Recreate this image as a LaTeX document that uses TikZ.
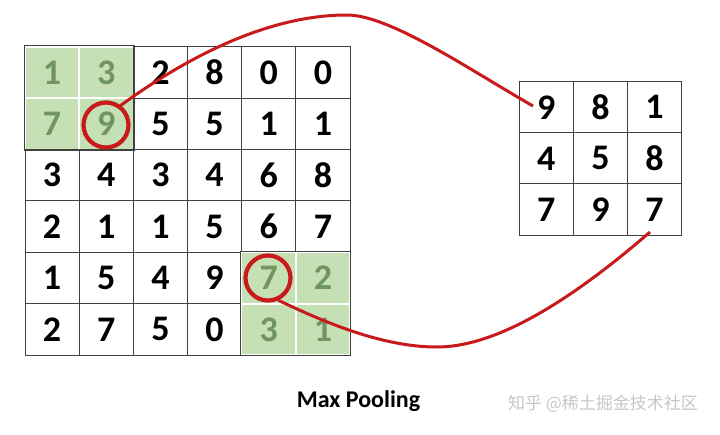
\documentclass[tikz,border=0pt]{standalone}
\usepackage{fontspec}
\setmainfont{Carlito}
\newfontfamily\cjkfont{Noto Sans CJK SC}
\definecolor{gridgray}{HTML}{404040}
\definecolor{cellgreen}{HTML}{C5E0B4}
\definecolor{greentext}{HTML}{6F965F}
\definecolor{ringred}{HTML}{C8191B}
\begin{document}
\begin{tikzpicture}[x=1pt,y=-1pt,
  cellbox/.style={draw=gridgray, line width=1pt, minimum width=54.17pt, minimum height=51.4pt, inner sep=0pt, font=\bfseries\fontsize{36}{36}\selectfont},
  greencell/.style={cellbox, fill=cellgreen, draw=white, line width=1.6pt, text=greentext},
  outcell/.style={cellbox, minimum width=54.1pt, minimum height=51.1pt},
  ring/.style={circle, draw=ringred, line width=4.2pt, minimum size=45pt, inner sep=0pt},
  link/.style={draw=ringred, line width=3pt}]
\useasboundingbox (0,0) rectangle (720,434);
% input 6x6 grid
\foreach \rowvals [count=\r] in {{1,3,2,8,0,0},{7,9,5,5,1,1},{3,4,3,4,6,8},{2,1,1,5,6,7},{1,5,4,9,7,2},{2,7,5,0,3,1}}{
  \foreach \v [count=\c] in \rowvals {
    \pgfmathtruncatemacro\isg{((\r<3)&&(\c<3))||((\r>4)&&(\c>4))}
    \ifnum\isg=1
      \node[greencell] (c-\r-\c) at ({25+54.17*(\c-0.5)},{46.7+51.4*(\r-0.5)}) {\v};
    \else
      \node[cellbox] (c-\r-\c) at ({25+54.17*(\c-0.5)},{46.7+51.4*(\r-0.5)}) {\v};
    \fi
  }
}
\draw[gridgray, line width=1pt] (c-1-1.north west) rectangle (c-2-2.south east);
\draw[gridgray, line width=1pt] (c-5-5.north west) rectangle (c-6-6.south east);
% output 3x3 grid
\foreach \rowvals [count=\r] in {{9,8,1},{4,5,8},{7,9,7}}{
  \foreach \v [count=\c] in \rowvals {
    \node[outcell] (r-\r-\c) at ({519.3+54.1*(\c-0.5)},{81.7+51.1*(\r-0.5)}) {\v};
  }
}
% rings
\node[ring] (k1) at (106,125) {};
\node[ring] (k2) at (268,278) {};
% connectors
\coordinate (p1) at (347,15);
\coordinate (e1) at (533,106);
\coordinate (p2) at (437,347);
\coordinate (e2) at (650,232);
\draw[link] (k1.53) .. controls (190,55) and (270,15) .. (p1) .. controls (390,15) and (470,70) .. (e1);
\draw[link] (k2.-65) .. controls (330,325) and (385,347) .. (p2) .. controls (490,347) and (560,310) .. (e2);
% labels
\node[font=\bfseries\fontsize{24}{24}\selectfont, anchor=base] (title) at (358.5,407.3) {Max Pooling};
\node[font=\cjkfont\fontsize{17}{17}\selectfont, text=gray!45, anchor=base] (wm) at (603,409) {知乎 @稀土掘金技术社区};
\end{tikzpicture}
\end{document}
